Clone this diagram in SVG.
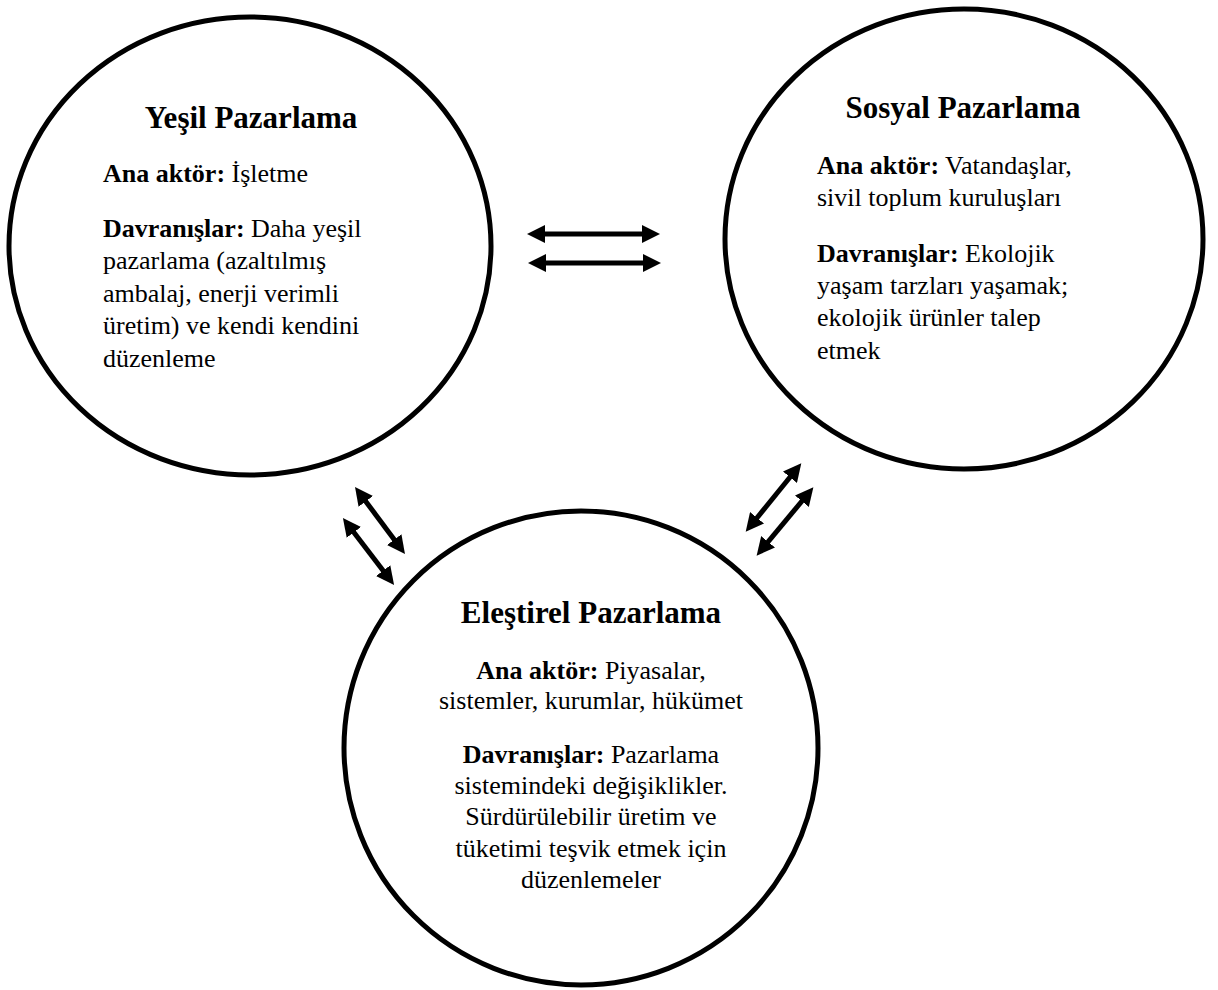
<svg xmlns="http://www.w3.org/2000/svg" width="1218" height="990" viewBox="0 0 1218 990">
<style>
.node{fill:#fff;stroke:#000;stroke-width:5}
text{font-family:'Liberation Serif','DejaVu Serif',serif;fill:#000}
.t{font-size:31px;font-weight:bold}
.b{font-size:26px}
.k{font-weight:bold}
.c{text-anchor:middle}
.conn{stroke:#000;stroke-width:5;fill:none;marker-start:url(#ah);marker-end:url(#ah)}
</style>
<defs>
<marker id="ah" markerUnits="userSpaceOnUse" viewBox="0 0 18 18" markerWidth="18" markerHeight="18" refX="8" refY="9" orient="auto-start-reverse">
<path d="M0,0 L18,9 L0,18 z" fill="#000"/>
</marker>
</defs>
<rect width="1218" height="990" fill="#fff"/>
<g id="yesil">
<ellipse class="node" cx="250" cy="246" rx="241" ry="229"/>
<text class="t c" x="251" y="128">Yeşil Pazarlama</text>
<text class="b" x="103" y="182"><tspan class="k">Ana aktör:</tspan> İşletme</text>
<text class="b" x="103" y="237"><tspan class="k">Davranışlar:</tspan> Daha yeşil</text>
<text class="b" x="103" y="269">pazarlama (azaltılmış</text>
<text class="b" x="103" y="302">ambalaj, enerji verimli</text>
<text class="b" x="103" y="334">üretim) ve kendi kendini</text>
<text class="b" x="103" y="367">düzenleme</text>
</g>
<g id="sosyal">
<ellipse class="node" cx="964" cy="239" rx="239" ry="230"/>
<text class="t c" x="963" y="118">Sosyal Pazarlama</text>
<text class="b" x="817" y="174"><tspan class="k">Ana aktör:</tspan> Vatandaşlar,</text>
<text class="b" x="817" y="206">sivil toplum kuruluşları</text>
<text class="b" x="817" y="262"><tspan class="k">Davranışlar:</tspan> Ekolojik</text>
<text class="b" x="817" y="294">yaşam tarzları yaşamak;</text>
<text class="b" x="817" y="326">ekolojik ürünler talep</text>
<text class="b" x="817" y="359">etmek</text>
</g>
<g id="elestirel">
<ellipse class="node" cx="581" cy="748" rx="237" ry="237"/>
<text class="t c" x="591" y="623">Eleştirel Pazarlama</text>
<text class="b c" x="591" y="679"><tspan class="k">Ana aktör:</tspan> Piyasalar,</text>
<text class="b c" x="591" y="709">sistemler, kurumlar, hükümet</text>
<text class="b c" x="591" y="763"><tspan class="k">Davranışlar:</tspan> Pazarlama</text>
<text class="b c" x="591" y="794">sistemindeki değişiklikler.</text>
<text class="b c" x="591" y="825">Sürdürülebilir üretim ve</text>
<text class="b c" x="591" y="857">tüketimi teşvik etmek için</text>
<text class="b c" x="591" y="888">düzenlemeler</text>
</g>
<g id="connectors">
<line class="conn" x1="537" y1="234" x2="650" y2="234"/>
<line class="conn" x1="538" y1="263" x2="651" y2="263"/>
<line class="conn" x1="361" y1="495" x2="399" y2="546"/>
<line class="conn" x1="349" y1="526" x2="388" y2="577"/>
<line class="conn" x1="795" y1="471" x2="752" y2="524"/>
<line class="conn" x1="807" y1="495" x2="763" y2="548"/>
</g>
</svg>
